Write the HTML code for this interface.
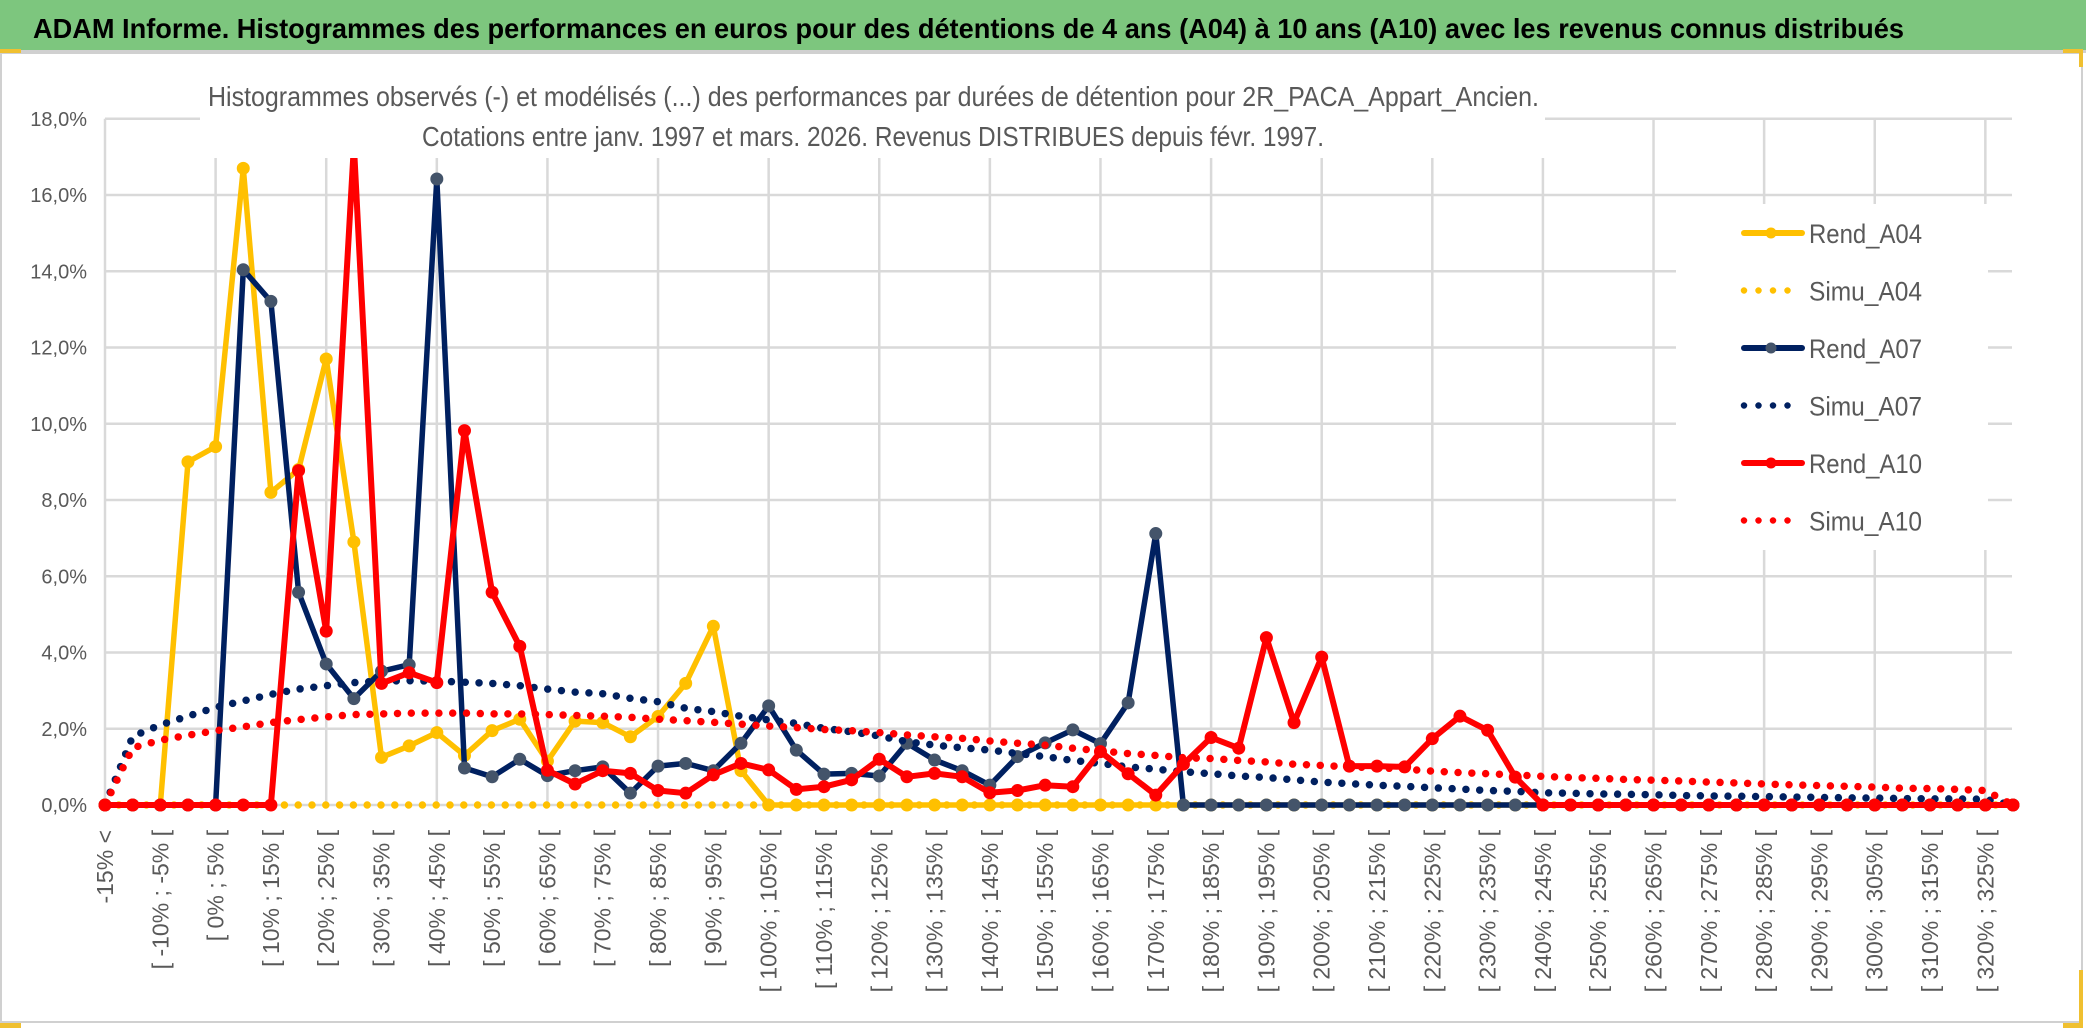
<!DOCTYPE html>
<html><head><meta charset="utf-8">
<style>
html,body{margin:0;padding:0;background:#fff;}
svg{display:block;font-family:"Liberation Sans",sans-serif;}
</style></head>
<body>
<svg id="chart" xmlns="http://www.w3.org/2000/svg" width="2086" height="1031" viewBox="0 0 2086 1031">
  <rect x="0" y="0" width="2086" height="1031" fill="#ffffff"/>
  <rect x="0" y="0" width="2086" height="50" fill="#7DC67E"/>
  <line x1="0" y1="51.5" x2="2086" y2="51.5" stroke="#d0d0d0" stroke-width="3"/>
  <text x="33" y="38" font-size="28" font-weight="bold" fill="#000" textLength="1871" lengthAdjust="spacingAndGlyphs">ADAM Informe. Histogrammes des performances en euros pour des détentions de 4 ans (A04) à 10 ans (A10) avec les revenus connus distribués</text>
  <rect x="1" y="53" width="2081" height="969" fill="none" stroke="#d0d0d0" stroke-width="2"/>
  <rect x="0" y="49" width="21" height="4" fill="#F0C030"/>
  <rect x="2063" y="49" width="20" height="4" fill="#F0C030"/>
  <rect x="2079" y="49" width="4" height="18" fill="#F0C030"/>
  <rect x="0" y="1023" width="21" height="5" fill="#F0C030"/>
  <rect x="2079" y="970" width="4" height="58" fill="#F0C030"/>
  <rect x="2063" y="1023" width="20" height="5" fill="#F0C030"/>
  <g id="grid"></g>
  <g id="yaxis"></g>
  <g id="xaxis"></g>
  <rect x="1676" y="204" width="312" height="346" fill="#ffffff"/>
  <g id="series"></g>
  <rect x="200" y="60" width="1345" height="98" fill="#ffffff"/>
  <text x="208" y="106" font-size="28" fill="#595959" textLength="1331" lengthAdjust="spacingAndGlyphs">Histogrammes observés (-) et modélisés (...) des performances par durées de détention pour 2R_PACA_Appart_Ancien.</text>
  <text x="422" y="146" font-size="28" fill="#595959" textLength="902" lengthAdjust="spacingAndGlyphs">Cotations entre janv. 1997 et mars. 2026. Revenus DISTRIBUES depuis févr. 1997.</text>
  <g id="legend"></g>
</svg>
<script>
const categories = ["-15% <","[ -15% ; -10% [","[ -10% ; -5% [","[ -5% ; 0% [","[ 0% ; 5% [","[ 5% ; 10% [","[ 10% ; 15% [","[ 15% ; 20% [","[ 20% ; 25% [","[ 25% ; 30% [",
"[ 30% ; 35% [","[ 35% ; 40% [","[ 40% ; 45% [","[ 45% ; 50% [","[ 50% ; 55% [","[ 55% ; 60% [","[ 60% ; 65% [","[ 65% ; 70% [","[ 70% ; 75% [","[ 75% ; 80% [",
"[ 80% ; 85% [","[ 85% ; 90% [","[ 90% ; 95% [","[ 95% ; 100% [","[ 100% ; 105% [","[ 105% ; 110% [","[ 110% ; 115% [","[ 115% ; 120% [","[ 120% ; 125% [","[ 125% ; 130% [",
"[ 130% ; 135% [","[ 135% ; 140% [","[ 140% ; 145% [","[ 145% ; 150% [","[ 150% ; 155% [","[ 155% ; 160% [","[ 160% ; 165% [","[ 165% ; 170% [","[ 170% ; 175% [","[ 175% ; 180% [",
"[ 180% ; 185% [","[ 185% ; 190% [","[ 190% ; 195% [","[ 195% ; 200% [","[ 200% ; 205% [","[ 205% ; 210% [","[ 210% ; 215% [","[ 215% ; 220% [","[ 220% ; 225% [","[ 225% ; 230% [",
"[ 230% ; 235% [","[ 235% ; 240% [","[ 240% ; 245% [","[ 245% ; 250% [","[ 250% ; 255% [","[ 255% ; 260% [","[ 260% ; 265% [","[ 265% ; 270% [","[ 270% ; 275% [","[ 275% ; 280% [",
"[ 280% ; 285% [","[ 285% ; 290% [","[ 290% ; 295% [","[ 295% ; 300% [","[ 300% ; 305% [","[ 305% ; 310% [","[ 310% ; 315% [","[ 315% ; 320% [","[ 320% ; 325% [","[ 325% ; 330% ["];
const yTicks = [0,2,4,6,8,10,12,14,16,18];
const yTickLabels = ["0,0%","2,0%","4,0%","6,0%","8,0%","10,0%","12,0%","14,0%","16,0%","18,0%"];
const rendA04 = [0,0,0,9.0,9.4,16.7,8.2,8.8,11.7,6.9,
1.25,1.55,1.9,1.3,1.95,2.25,1.15,2.2,2.16,1.79,
2.32,3.19,4.69,0.9,0,0,0,0,0,0,
0,0,0,0,0,0,0,0,0,0, 0,0,0,0,0,0,0,0,0,0, 0,0,0,0,0,0,0,0,0,0, 0,0,0,0,0,0,0,0,0,0];
const simuA04 = [0,0,0,0,0,0,0,0,0,0, 0,0,0,0,0,0,0,0,0,0, 0,0,0,0,0,0,0,0,0,0, 0,0,0,0,0,0,0,0,0,0,
0,0,0,0,0,0,0,0,0,0, 0,0,0,0,0,0,0,0,0,0, 0,0,0,0,0,0,0,0,0,0];
const rendA07 = [0,0,0,0,0,14.04,13.21,5.58,3.70,2.79,
3.51,3.68,16.42,0.97,0.74,1.20,0.77,0.90,1.0,0.31,
1.02,1.09,0.9,1.62,2.6,1.44,0.81,0.83,0.76,1.62,
1.18,0.9,0.52,1.27,1.63,1.97,1.61,2.68,7.12,0,
0,0,0,0,0,0,0,0,0,0, 0,0,0,0,0,0,0,0,0,0, 0,0,0,0,0,0,0,0,0,0];
const simuA07 = [0,1.8,2.1,2.33,2.56,2.73,2.90,3.04,3.13,3.21,
3.25,3.26,3.25,3.22,3.19,3.13,3.04,2.96,2.92,2.80,
2.71,2.54,2.45,2.33,2.23,2.14,2.01,1.92,1.81,1.66,
1.57,1.50,1.44,1.35,1.27,1.17,1.09,1.0,0.94,0.87,
0.82,0.76,0.72,0.66,0.60,0.56,0.52,0.49,0.45,0.42,
0.38,0.36,0.32,0.31,0.29,0.28,0.27,0.25,0.24,0.23,
0.22,0.21,0.20,0.19,0.18,0.17,0.16,0.16,0.15,0];
const rendA10 = [0,0,0,0,0,0,0,8.77,4.56,17.3,
3.19,3.47,3.21,9.82,5.58,4.16,0.91,0.55,0.9,0.83,
0.38,0.31,0.79,1.09,0.92,0.41,0.48,0.66,1.2,0.74,
0.83,0.74,0.32,0.38,0.52,0.48,1.40,0.82,0.26,1.07,
1.77,1.49,4.39,2.16,3.88,1.02,1.02,1.0,1.74,2.33,
1.96,0.73,0,0,0,0,0,0,0,0,
0,0,0,0,0,0,0,0,0,0];
const simuA10 = [0,1.5,1.7,1.83,1.95,2.05,2.16,2.24,2.31,2.37,
2.39,2.41,2.41,2.41,2.39,2.39,2.37,2.35,2.33,2.30,
2.25,2.21,2.17,2.12,2.07,2.03,1.98,1.95,1.90,1.84,
1.79,1.75,1.68,1.62,1.57,1.49,1.42,1.35,1.30,1.24,
1.22,1.17,1.13,1.07,1.04,1.0,0.98,0.94,0.89,0.85,
0.82,0.79,0.75,0.72,0.70,0.67,0.65,0.63,0.60,0.58,
0.55,0.53,0.51,0.49,0.47,0.44,0.43,0.41,0.38,0];
const seriesNames = ["Rend_A04","Simu_A04","Rend_A07","Simu_A07","Rend_A10","Simu_A10"];

const NS = "http://www.w3.org/2000/svg";
const X0 = 105, X1 = 2012, Y0 = 805, PER = 38.125;
const step = (2013 - 105) / (categories.length - 1);
function xs(i){ return X0 + i * step; }
function ys(v){ return Y0 - v * PER; }
function mk(tag, attrs, parent){
  const e = document.createElementNS(NS, tag);
  for (const k in attrs) e.setAttribute(k, attrs[k]);
  parent.appendChild(e);
  return e;
}
const grid = document.getElementById('grid');
yTicks.forEach(function(t){
  const l = mk('line', {x1:X0, x2:X1, y1:ys(t), y2:ys(t), stroke:'#d9d9d9', 'stroke-width':2.5}, grid);
  
  
});
categories.forEach(function(c, i){
  if (i % 4 !== 0) return;
  const l = mk('line', {x1:xs(i), x2:xs(i), y1:ys(18), y2:Y0, stroke:'#d9d9d9', 'stroke-width':2.5}, grid);
  
  
});
const yaxis = document.getElementById('yaxis');
yTicks.forEach(function(t, i){
  const tx = mk('text', {x:87, y:ys(t)+7, 'text-anchor':'end', 'font-size':20, fill:'#595959'}, yaxis);
  tx.textContent = yTickLabels[i];
  
  
});
const xaxis = document.getElementById('xaxis');
categories.forEach(function(c, i){
  if (i % 2 !== 0) return;
  const x = xs(i);
  const tx = mk('text', {x:0, y:0, 'text-anchor':'end', 'font-size':23, fill:'#595959',
    transform:'translate(' + (x + 8) + ',830) rotate(-90)'}, xaxis);
  tx.textContent = c;
  
  
});
const layer = document.getElementById('series');
function pts(arr){ return arr.map(function(v, i){ return xs(i).toFixed(1) + ',' + ys(v).toFixed(1); }).join(' '); }
function solid(arr, color, mfill, w, name){
  const g = mk('g', {}, layer);
  
  
  const p = mk('polyline', {points:pts(arr), fill:'none', stroke:color, 'stroke-width':w, 'stroke-linejoin':'round'}, g);
  
  
  arr.forEach(function(v, i){
    const c = mk('circle', {cx:xs(i), cy:ys(v), r:6, fill:mfill, stroke:mfill, 'stroke-width':1}, g);
    
    
  });
}
function dotted(arr, color, name){
  const p = mk('polyline', {points:pts(arr), fill:'none', stroke:color, 'stroke-width':7.5, 'stroke-linecap':'round', 'stroke-dasharray':'0 13.8'}, layer);
  
  
}
solid(rendA04, '#FFC000', '#FFC000', 5.5, 'rend-a04');
dotted(simuA04, '#FFC000', 'simu-a04');
solid(rendA07, '#002060', '#44546A', 5.5, 'rend-a07');
dotted(simuA07, '#002060', 'simu-a07');
solid(rendA10, '#FF0000', '#FF0000', 6, 'rend-a10');
dotted(simuA10, '#FF0000', 'simu-a10');

const legend = document.getElementById('legend');
const legendColors = ['#FFC000','#FFC000','#002060','#002060','#FF0000','#FF0000'];
const legendMarker = ['#FFC000',null,'#44546A',null,'#FF0000',null];
seriesNames.forEach(function(n, i){
  const y = 233 + i * 57.5;
  const g = mk('g', {}, legend);
  
  
  if (legendMarker[i]) {
    mk('line', {x1:1744, x2:1802, y1:y, y2:y, stroke:legendColors[i], 'stroke-width':6, 'stroke-linecap':'round'}, g);
    mk('circle', {cx:1771, cy:y, r:5.5, fill:legendMarker[i]}, g);
  } else {
    const end = (i === 5) ? 1800 : 1791;
    mk('line', {x1:1744, x2:end, y1:y, y2:y, stroke:legendColors[i], 'stroke-width':6.5, 'stroke-linecap':'round', 'stroke-dasharray':'0 14.5'}, g);
  }
  const t = mk('text', {x:1809, y:y+10, 'font-size':27, fill:'#595959', textLength:113, lengthAdjust:'spacingAndGlyphs'}, g);
  t.textContent = n;
  
  
});
</script>
</body></html>
